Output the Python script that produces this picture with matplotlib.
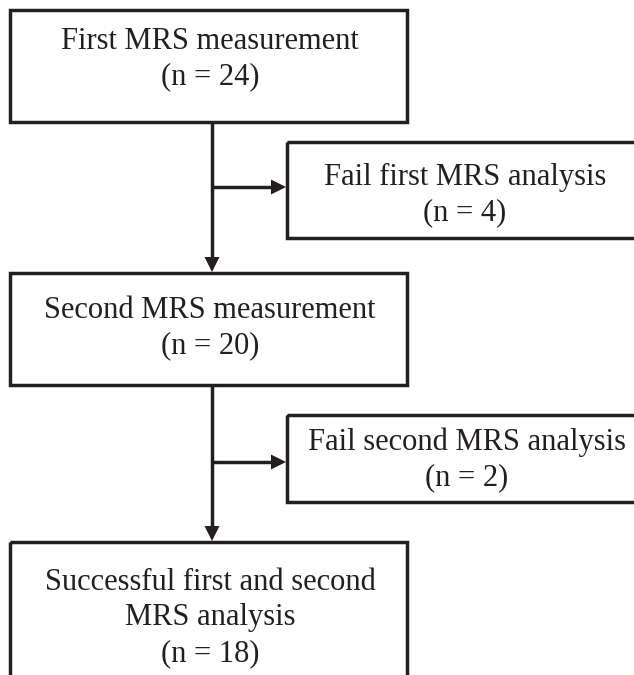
import matplotlib
matplotlib.use("Agg")
import matplotlib.pyplot as plt
from matplotlib.patches import Rectangle, Polygon

# Data
main_labels = ["First MRS measurement", "Second MRS measurement", "Successful first and second\nMRS analysis"]
main_counts = [24, 20, 18]
side_labels = ["Fail first MRS analysis", "Fail second MRS analysis"]
side_counts = [4, 2]

W, H = 634, 675
fig = plt.figure(figsize=(W / 100, H / 100), dpi=100)
ax = fig.add_axes([0, 0, 1, 1])
ax.set_xlim(0, W)
ax.set_ylim(H, 0)
ax.axis("off")

FONT = "Liberation Serif"
FS = 22
LS = 1.3
LW = 2.5
COL = "#231f20"

# layout (pixel coords)
main_boxes = [(10, 10, 397, 112), (10, 273, 397, 112), (10, 542, 397, 150)]
side_boxes = [(287, 142, 360, 96), (287, 415, 360, 87)]
main_text_pos = [(210, 59), (210, 328), (210, 618)]
side_text_pos = [(465, 195), (467, 460)]
spine_x = 212
branch_y = [187, 462]


def draw_box(x, y, w, h):
    ax.add_patch(Rectangle((x, y), w, h, fill=False, lw=LW, ec=COL, clip_on=True))


def arrow_head(tip, direction, size=15, half=7.5):
    tx, ty = tip
    if direction == "down":
        pts = [(tx, ty), (tx - half, ty - size), (tx + half, ty - size)]
    else:
        pts = [(tx, ty), (tx - size, ty - half), (tx - size, ty + half)]
    ax.add_patch(Polygon(pts, closed=True, fc=COL, ec="none"))


for (x, y, w, h) in main_boxes + side_boxes:
    draw_box(x, y, w, h)

for (tx, ty), lab, n in zip(main_text_pos, main_labels, main_counts):
    ax.text(tx, ty, f"{lab}\n(n = {n})", ha="center", va="center",
            fontsize=FS, family=FONT, linespacing=LS, color=COL)
for (tx, ty), lab, n in zip(side_text_pos, side_labels, side_counts):
    ax.text(tx, ty, f"{lab}\n(n = {n})", ha="center", va="center",
            fontsize=FS, family=FONT, linespacing=LS, color=COL)

# connectors
segments = [(122, 273), (385, 542)]
for (y0, y1), by, sb in zip(segments, branch_y, side_boxes):
    ax.plot([spine_x, spine_x], [y0, y1 - 12], color=COL, lw=LW, solid_capstyle="butt")
    arrow_head((spine_x, y1 - 1), "down")
    ax.plot([spine_x, sb[0] - 12], [by, by], color=COL, lw=LW, solid_capstyle="butt")
    arrow_head((sb[0] - 1, by), "right")

fig.savefig("out.png", dpi=100, facecolor="white")
